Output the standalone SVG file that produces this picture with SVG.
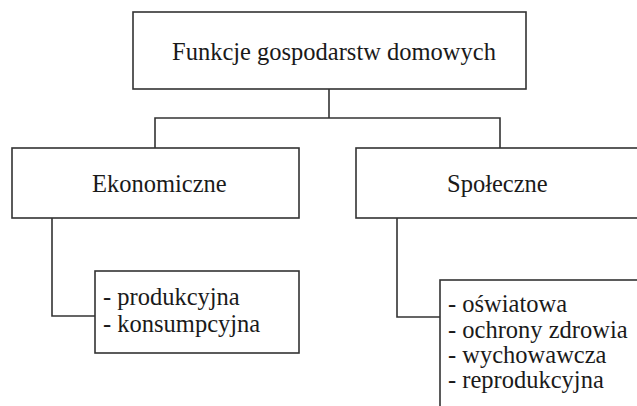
<svg xmlns="http://www.w3.org/2000/svg" width="637" height="406" viewBox="0 0 637 406">
<style>
.box{fill:#fff;stroke:#333;stroke-width:1.6}
.ln{fill:none;stroke:#333;stroke-width:1.6}
.t{font-family:'Liberation Serif','DejaVu Serif',serif;font-size:24.5px;fill:#1a1a1a}
</style>
<rect width="637" height="406" fill="#fff"/>
<g id="connectors">
<polyline class="ln" points="329,89 329,118"/>
<polyline class="ln" points="155,148 155,118 500,118 500,148"/>
<polyline class="ln" points="52,218 52,316 95,316"/>
<polyline class="ln" points="397,218 397,317 440,317"/>
</g>
<g id="root">
<rect class="box" x="133" y="12" width="393" height="77"/>
<text class="t" x="172" y="60">Funkcje gospodarstw domowych</text>
</g>
<g id="ekonomiczne">
<rect class="box" x="12" y="148" width="287" height="70"/>
<text class="t" x="92" y="192">Ekonomiczne</text>
</g>
<g id="spoleczne">
<rect class="box" x="356" y="148" width="300" height="70"/>
<text class="t" x="447" y="192">Społeczne</text>
</g>
<g id="ekonomiczne-list">
<rect class="box" x="95" y="271" width="204" height="82"/>
<text class="t" x="103" y="305">- produkcyjna</text>
<text class="t" x="103" y="332">- konsumpcyjna</text>
</g>
<g id="spoleczne-list">
<rect class="box" x="440" y="280" width="220" height="140"/>
<text class="t" x="448" y="312">- oświatowa</text>
<text class="t" x="448" y="338">- ochrony zdrowia</text>
<text class="t" x="448" y="363">- wychowawcza</text>
<text class="t" x="448" y="388">- reprodukcyjna</text>
</g>
</svg>
